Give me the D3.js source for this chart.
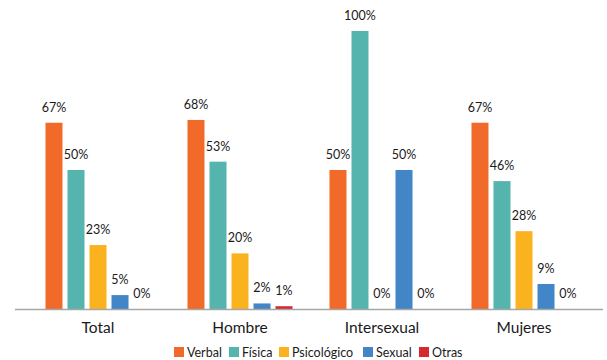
<!DOCTYPE html>
<html><head><meta charset="utf-8">
<script src="https://cdn.jsdelivr.net/npm/d3@7"></script>
<style>body{margin:0;background:#fff}svg{display:block}text{font-family:Lato,"Open Sans",sans-serif;fill:#1a1a1a}</style>
</head><body>
<svg id="c" width="607" height="360"></svg>
<script>
const categories = ["Total","Hombre","Intersexual","Mujeres"];
const series = ["Verbal","Física","Psicológico","Sexual","Otras"];
const colors = ["#F26A2A","#55B5AE","#FBB21F","#4286C7","#D7282F"];
const verbal = [67,68,50,67];
const fisica = [50,53,100,46];
const psicologico = [23,20,0,28];
const sexual = [5,2,50,9];
const otras = [0,1,0,0];
const values = [verbal,fisica,psicologico,sexual,otras];

const svg = d3.select("#c");
const x0 = d3.scaleBand().domain(categories).range([27,595]).padding(0);
const x1 = d3.scaleBand().domain(series).range([0,x0.bandwidth()]).paddingInner(0.227).paddingOuter(0.84);
const y = d3.scaleLinear().domain([0,100]).range([309,31]);
const color = d3.scaleOrdinal().domain(series).range(colors);

const g = svg.append("g");
categories.forEach((cat,ci)=>{
  const gg = g.append("g").attr("transform",`translate(${x0(cat)},0)`);
  series.forEach((s,si)=>{
    const v = values[si][ci];
    gg.append("rect").attr("x",x1(s)).attr("width",x1.bandwidth())
      .attr("y",y(v)).attr("height",y(0)-y(v)).attr("fill",color(s));
    gg.append("text").attr("x",x1(s)+x1.bandwidth()/2).attr("y",y(v)-11)
      .attr("text-anchor","middle").attr("font-size",12.5).text(v+"%");
  });
});

svg.append("line").attr("x1",15).attr("x2",603).attr("y1",309.5).attr("y2",309.5)
  .attr("stroke","#a6a6a6").attr("stroke-width",1.3);

const xAxis = svg.append("g").attr("transform","translate(0,309)")
  .call(d3.axisBottom(x0).tickSize(0).tickPadding(13));
xAxis.select(".domain").remove();
xAxis.selectAll("text").attr("font-size",15.5).style("font-family","Lato,'Open Sans',sans-serif").attr("fill","#1a1a1a");

const legX = [174,229,279,363,419];
const leg = svg.append("g");
series.forEach((s,i)=>{
  leg.append("rect").attr("x",legX[i]).attr("y",347).attr("width",10).attr("height",10).attr("fill",color(s));
  leg.append("text").attr("x",legX[i]+13).attr("y",357).attr("font-size",12.5).text(s);
});
</script>
</body></html>
